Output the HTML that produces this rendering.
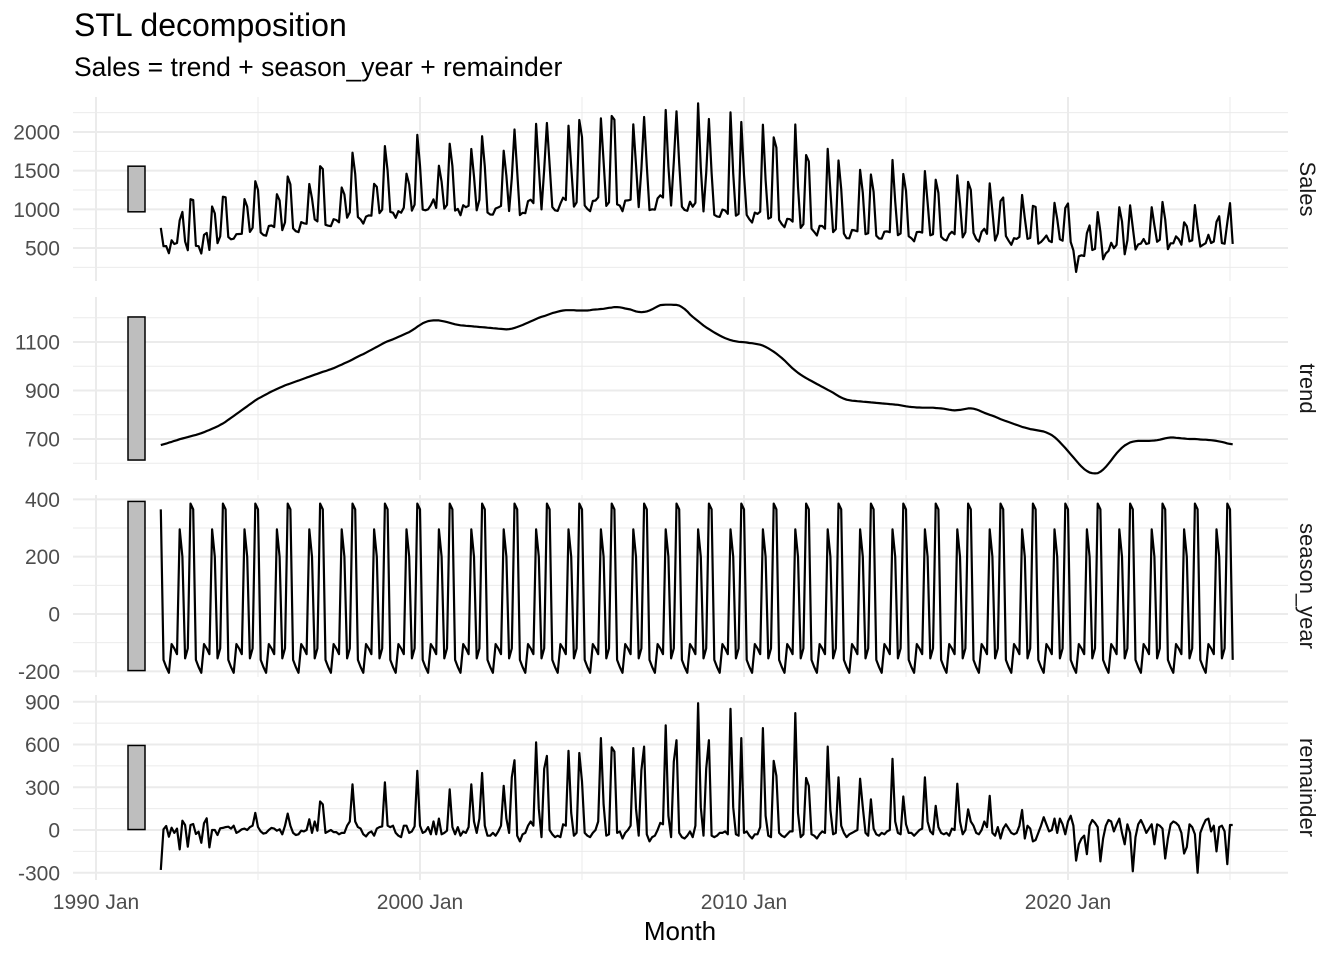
<!DOCTYPE html>
<html><head><meta charset="utf-8">
<style>
html,body{margin:0;padding:0;background:#fff;}
svg{display:block;font-family:"Liberation Sans",sans-serif;}
</style></head>
<body>
<svg id="chart" width="1344" height="960" viewBox="0 0 1344 960" xmlns="http://www.w3.org/2000/svg">
<text x="74" y="36" font-size="32" fill="#000">STL decomposition</text>
<text x="74" y="76" font-size="26.5" fill="#000">Sales = trend + season_year + remainder</text>
<g id="panels"></g>
<text x="680" y="940" font-size="26" text-anchor="middle" fill="#000">Month</text>
</svg>
<script>
const startYear = 1992;
const xTickLabels = ["1990 Jan","2000 Jan","2010 Jan","2020 Jan"];
const xTickYears = [1990,2000,2010,2020];
const seasonPattern = [365,-160,-185,-205,-105,-120,-140,295,200,-155,-120,385];
const trend = [
675,678,681,685,688,692,695,699,702,705,708,711,
714,717,720,724,728,733,737,742,747,752,758,764,
771,779,787,795,803,811,819,827,835,843,851,859,
866,872,878,884,890,896,901,906,911,916,921,925,
929,933,937,941,945,949,953,957,961,965,969,973,
977,980,984,988,992,997,1002,1007,1012,1017,1022,1028,
1034,1040,1045,1050,1056,1062,1068,1074,1080,1086,1092,1098,
1103,1107,1111,1116,1121,1126,1131,1136,1141,1148,1155,1163,
1170,1177,1182,1186,1188,1189,1189,1189,1187,1185,1182,1179,
1176,1173,1171,1169,1168,1167,1166,1165,1164,1163,1162,1161,
1160,1159,1158,1157,1156,1155,1154,1153,1152,1153,1155,1158,
1162,1166,1170,1175,1180,1185,1190,1195,1200,1204,1207,1211,
1215,1219,1222,1225,1228,1230,1231,1231,1231,1231,1230,1230,
1230,1230,1230,1231,1233,1234,1235,1236,1237,1239,1241,1242,
1244,1244,1243,1241,1238,1236,1234,1230,1226,1224,1223,1224,
1226,1230,1235,1241,1247,1252,1253,1254,1254,1254,1253,1253,
1250,1244,1236,1226,1214,1204,1195,1186,1177,1168,1160,1153,
1146,1139,1133,1127,1121,1116,1112,1108,1105,1103,1101,1100,
1099,1098,1096,1095,1093,1091,1089,1085,1080,1074,1067,1060,
1052,1043,1034,1024,1013,1002,991,982,973,965,958,951,
945,939,933,927,921,915,909,903,897,891,884,877,
871,866,862,860,858,857,856,855,854,853,852,851,
850,849,848,847,846,845,844,843,842,841,839,837,
835,833,832,831,830,830,829,829,829,829,829,828,
827,826,825,823,821,819,818,819,820,822,824,826,
826,825,822,818,813,808,804,800,796,792,787,782,
778,774,770,766,762,758,754,750,747,744,741,739,
737,735,733,731,727,722,716,708,698,687,675,663,
650,637,624,611,598,586,576,568,562,559,558,559,
565,574,585,598,612,627,641,653,664,673,680,686,
689,691,692,692,692,692,692,693,694,695,697,700,
703,705,706,706,705,704,703,702,701,700,700,700,
699,698,697,697,696,695,694,692,690,688,685,682,
680,678];
const remainder = [
-280,5,28,-47,16,-20,10,-136,65,35,-117,35,
42,-28,-12,-90,47,82,-122,0,0,-35,12,15,
20,23,10,30,-20,-10,5,10,0,20,30,120,
20,-10,-25,-20,0,15,10,-5,5,-30,30,115,
30,-20,-35,-30,-5,-10,0,75,-20,60,-5,200,
180,-20,-10,0,-15,-15,-30,-20,-20,30,60,320,
60,20,10,-30,-45,-20,-10,-40,10,20,25,335,
30,20,30,-20,-40,-50,30,30,-20,-10,25,415,
30,-20,-10,20,-30,60,-30,80,-30,-20,-5,285,
20,-30,20,-40,-10,-20,20,320,60,-20,80,400,
30,-40,-40,-20,-40,-10,30,310,80,-20,370,490,
-40,-80,-30,-20,30,60,30,615,150,-50,430,520,
0,-30,-50,-40,-50,40,30,555,120,-40,-20,540,
340,-20,-40,-50,-20,0,60,645,180,-40,-30,580,
550,-20,-10,-60,-20,0,30,575,150,-40,420,585,
-30,-80,-50,-40,0,50,40,735,100,-50,480,630,
-20,-50,-60,-40,-10,-50,30,890,160,-40,430,630,
-40,-50,-40,-20,-20,-10,-30,850,160,-30,-40,645,
-20,-10,-40,-60,-30,-30,20,715,100,-40,-50,485,
380,-20,-40,-50,-30,-10,-10,820,120,-50,-30,365,
310,-30,-40,-60,-30,-10,-20,585,140,-30,-20,370,
30,-20,-50,-30,-20,-10,0,360,160,-20,-40,215,
10,-30,-40,-20,-30,-10,0,500,60,-20,-30,235,
40,-20,-20,-40,-20,0,10,370,60,-10,-30,170,
20,-20,-30,-20,-40,10,0,325,60,-30,0,145,
60,30,-20,-30,0,60,20,240,-20,-40,20,-60,
10,40,10,-20,-30,-20,30,140,-60,30,10,-80,
-70,-20,30,90,40,-10,0,80,-20,80,40,-30,
60,100,30,-215,-100,-60,-40,-170,30,70,50,20,
-220,-60,30,70,60,-10,40,80,-20,-100,40,-20,
-290,-50,40,70,30,-20,10,40,-100,40,30,10,
-200,-60,40,60,50,30,-20,-165,-120,40,20,-30,
-300,-20,30,70,80,-10,30,-150,20,30,-10,-240,
35,35];
const salesTicks = [500,1000,1500,2000];
const trendTicks = [700,900,1100];
const seasonTicks = [-200,0,200,400];
const remainderTicks = [-300,0,300,600,900];

(function(){
const NS="http://www.w3.org/2000/svg";
const root=document.getElementById('panels');
const season=trend.map((_,i)=>seasonPattern[i%12]);
const sales=trend.map((t,i)=>t+season[i]+remainder[i]);
const xYear=y=>96+32.4*(y-1990);
const xIdx=i=>xYear(startYear+i/12);
const L=73,R=1288;
function mk(tag,attrs,parent){const e=document.createElementNS(NS,tag);for(const k in attrs)e.setAttribute(k,attrs[k]);parent.appendChild(e);return e;}
const rng=a=>Math.max(...a)-Math.min(...a);
const barRange=Math.min(rng(sales),rng(trend),rng(season),rng(remainder));
const panels=[
 {key:'sales',label:'Sales',data:sales,top:97,bot:281,v0:500,y0:248,k:0.07733,ticks:salesTicks,minor:250},
 {key:'trend',label:'trend',data:trend,top:297,bot:480,v0:700,y0:439,k:0.2425,ticks:trendTicks,minor:100},
 {key:'season',label:'season_year',data:season,top:495,bot:677,v0:0,y0:614,k:0.2867,ticks:seasonTicks,minor:100},
 {key:'remainder',label:'remainder',data:remainder,top:695,bot:880,v0:0,y0:830,k:0.1425,ticks:remainderTicks,minor:150}
];
panels.forEach(p=>{
 const g=mk('g',{},root);
 
 
 const yv=v=>p.y0-(v-p.v0)*p.k;
 const vmin=p.v0+(p.y0-p.bot)/p.k, vmax=p.v0+(p.y0-p.top)/p.k;
 const step=p.minor;
 for(let v=Math.ceil(vmin/step)*step;v<=vmax;v+=step){
  const major=p.ticks.includes(v);
  const ln=mk('line',{x1:L,x2:R,y1:yv(v),y2:yv(v),stroke:'#ebebeb','stroke-width':major?2:1},g);
  
  
 }
 for(let yr=1990;yr<=2025;yr+=5){
  const major=yr%10===0;
  const ln=mk('line',{x1:xYear(yr),x2:xYear(yr),y1:p.top,y2:p.bot,stroke:'#ebebeb','stroke-width':major?2:1},g);
  
  
 }
 p.ticks.forEach(v=>{
  const t=mk('text',{x:60,y:yv(v)+7.5,'font-size':21,'text-anchor':'end',fill:'#4d4d4d'},g);
  t.textContent=v;
  
  
 });
 const mid=(p.top+p.bot)/2, h=barRange*p.k;
 const bar=mk('rect',{x:128,y:mid-h/2,width:17,height:h,fill:'#bebebe',stroke:'#000','stroke-width':1.5},g);
 
 
 const d=p.data.map((v,i)=>(i?'L':'M')+xIdx(i).toFixed(1)+','+yv(v).toFixed(1)).join('');
 const path=mk('path',{d:d,fill:'none',stroke:'#000','stroke-width':2.2,'stroke-linejoin':'round'},g);
 
 
 const st=mk('text',{x:1300,y:mid,'font-size':22,'text-anchor':'middle',fill:'#1a1a1a',transform:'rotate(90 1300 '+mid+')'},g);
 st.textContent=p.label;
 
 
});
xTickLabels.forEach((lab,i)=>{
 const t=mk('text',{x:xYear(xTickYears[i]),y:909,'font-size':21,'text-anchor':'middle',fill:'#4d4d4d'},root);
 t.textContent=lab;
 
 
});
})();
</script>
</body></html>
